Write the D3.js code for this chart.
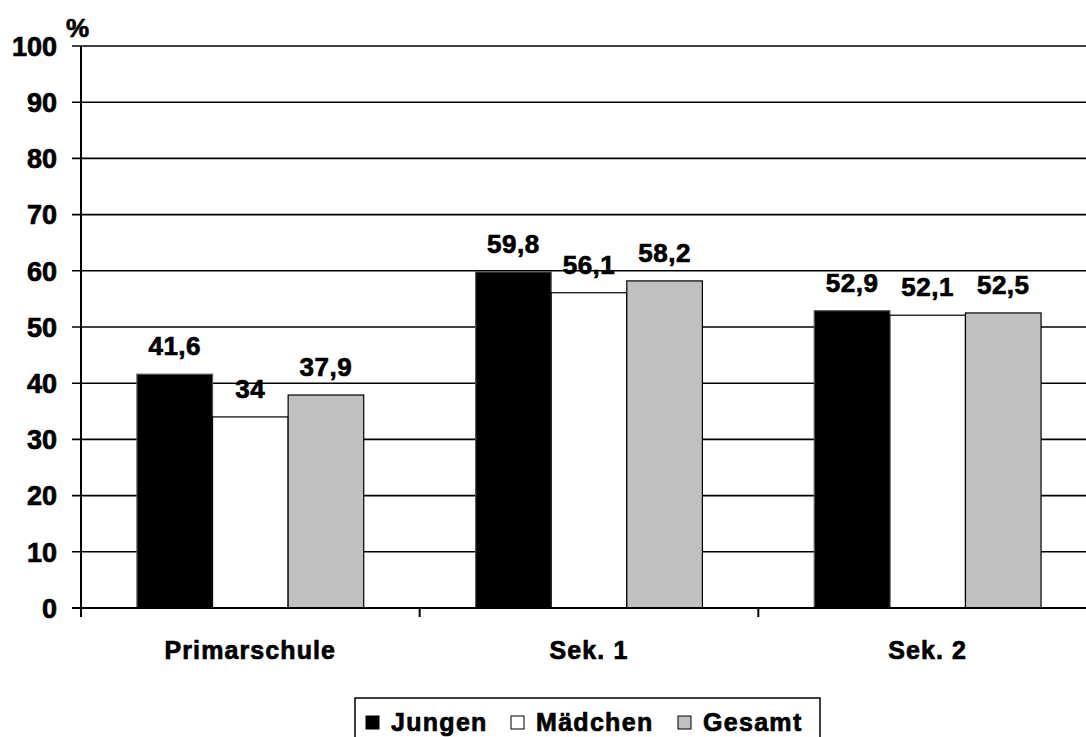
<!DOCTYPE html>
<html>
<head>
<meta charset="utf-8">
<script src="https://cdn.jsdelivr.net/npm/d3@7"></script>
<style>
  body { margin: 0; background: #fff; }
  svg { display: block; font-family: "Liberation Sans", Arial, sans-serif; font-weight: bold; }
  svg text { fill: #000; stroke: #000; stroke-width: 0.7px; }
</style>
</head>
<body>
<svg id="chart" width="1086" height="737"></svg>
<script>
// -- data -- //
const categories = ['Primarschule', 'Sek. 1', 'Sek. 2'];
const series = ['Jungen', 'Mädchen', 'Gesamt'];
const jungen = [41.6, 59.8, 52.9];
const maedchen = [34, 56.1, 52.1];
const gesamt = [37.9, 58.2, 52.5];
const yTicks = [0, 10, 20, 30, 40, 50, 60, 70, 80, 90, 100];

const values = [jungen, maedchen, gesamt];
const fills = ['#000000', '#ffffff', '#c0c0c0'];
const strokes = ['#555555', '#000000', '#000000'];

const svg = d3.select('#chart');
const plotLeft = 81, plotRight = 1097, plotTop = 46, plotBottom = 608;

const xScale = d3.scaleBand().domain(categories).range([plotLeft, plotRight]).padding(0);
const inner = d3.scaleBand().domain(series).range([0, xScale.bandwidth()])
    .paddingInner(0).paddingOuter(0.74);
const yScale = d3.scaleLinear().domain([0, 100]).range([plotBottom, plotTop]);

// -- grid lines -- //
svg.append('g').selectAll('line')
    .data(yTicks)
    .enter().append('line')
    .attr('x1', plotLeft - 9).attr('x2', plotRight)
    .attr('y1', d => yScale(d)).attr('y2', d => yScale(d))
    .style('stroke', '#000').style('stroke-width', 1.6);

// -- y tick labels -- //
svg.append('g').selectAll('text')
    .data(yTicks)
    .enter().append('text')
    .attr('x', 57)
    .attr('y', d => yScale(d))
    .attr('dy', '0.36em')
    .attr('text-anchor', 'end')
    .style('font-size', '27px')
    .text(d => d);

svg.append('text')
    .attr('x', 66).attr('y', 37)
    .style('font-size', '26px')
    .text('%');

// -- bars -- //
const rows = [];
categories.forEach((c, i) => series.forEach((s, j) => rows.push({ c, s, j, v: values[j][i] })));

svg.append('g').selectAll('rect')
    .data(rows)
    .enter().append('rect')
    .attr('x', d => xScale(d.c) + inner(d.s))
    .attr('width', inner.bandwidth())
    .attr('y', d => yScale(d.v))
    .attr('height', d => yScale(0) - yScale(d.v))
    .style('fill', d => fills[d.j])
    .style('stroke', d => strokes[d.j])
    .style('stroke-width', 1.2);

// -- value labels -- //
svg.append('g').selectAll('text')
    .data(rows)
    .enter().append('text')
    .attr('x', d => xScale(d.c) + inner(d.s) + inner.bandwidth() / 2)
    .attr('y', d => yScale(d.v) - 19)
    .attr('text-anchor', 'middle')
    .style('font-size', '26px')
    .style('letter-spacing', '0.5px')
    .text(d => String(d.v).replace('.', ','));

// -- axes -- //
svg.append('line')
    .attr('x1', plotLeft).attr('x2', plotLeft).attr('y1', plotTop).attr('y2', plotBottom + 9)
    .style('stroke', '#000').style('stroke-width', 2);
svg.append('line')
    .attr('x1', plotLeft - 9).attr('x2', plotRight).attr('y1', plotBottom).attr('y2', plotBottom)
    .style('stroke', '#000').style('stroke-width', 2);
svg.append('g').selectAll('line')
    .data(categories.slice(1))
    .enter().append('line')
    .attr('x1', d => xScale(d)).attr('x2', d => xScale(d))
    .attr('y1', plotBottom).attr('y2', plotBottom + 9)
    .style('stroke', '#000').style('stroke-width', 2);

// -- category labels -- //
svg.append('g').selectAll('text')
    .data(categories)
    .enter().append('text')
    .attr('x', d => xScale(d) + xScale.bandwidth() / 2)
    .attr('y', 659)
    .attr('text-anchor', 'middle')
    .style('font-size', '25px')
    .style('letter-spacing', '1.1px')
    .text(d => d);

// -- legend -- //
const legend = svg.append('g');
legend.append('rect')
    .attr('x', 355).attr('y', 698).attr('width', 465).attr('height', 60)
    .style('fill', '#fff').style('stroke', '#000').style('stroke-width', 1.5);
const legendX = [366, 511, 678];
series.forEach((s, j) => {
    legend.append('rect')
        .attr('x', legendX[j]).attr('y', 716).attr('width', 13).attr('height', 13)
        .style('fill', fills[j]).style('stroke', '#000').style('stroke-width', 1);
    legend.append('text')
        .attr('x', legendX[j] + 25).attr('y', 731)
        .style('font-size', '25px')
        .style('letter-spacing', '1.3px')
        .text(s);
});
</script>
</body>
</html>
